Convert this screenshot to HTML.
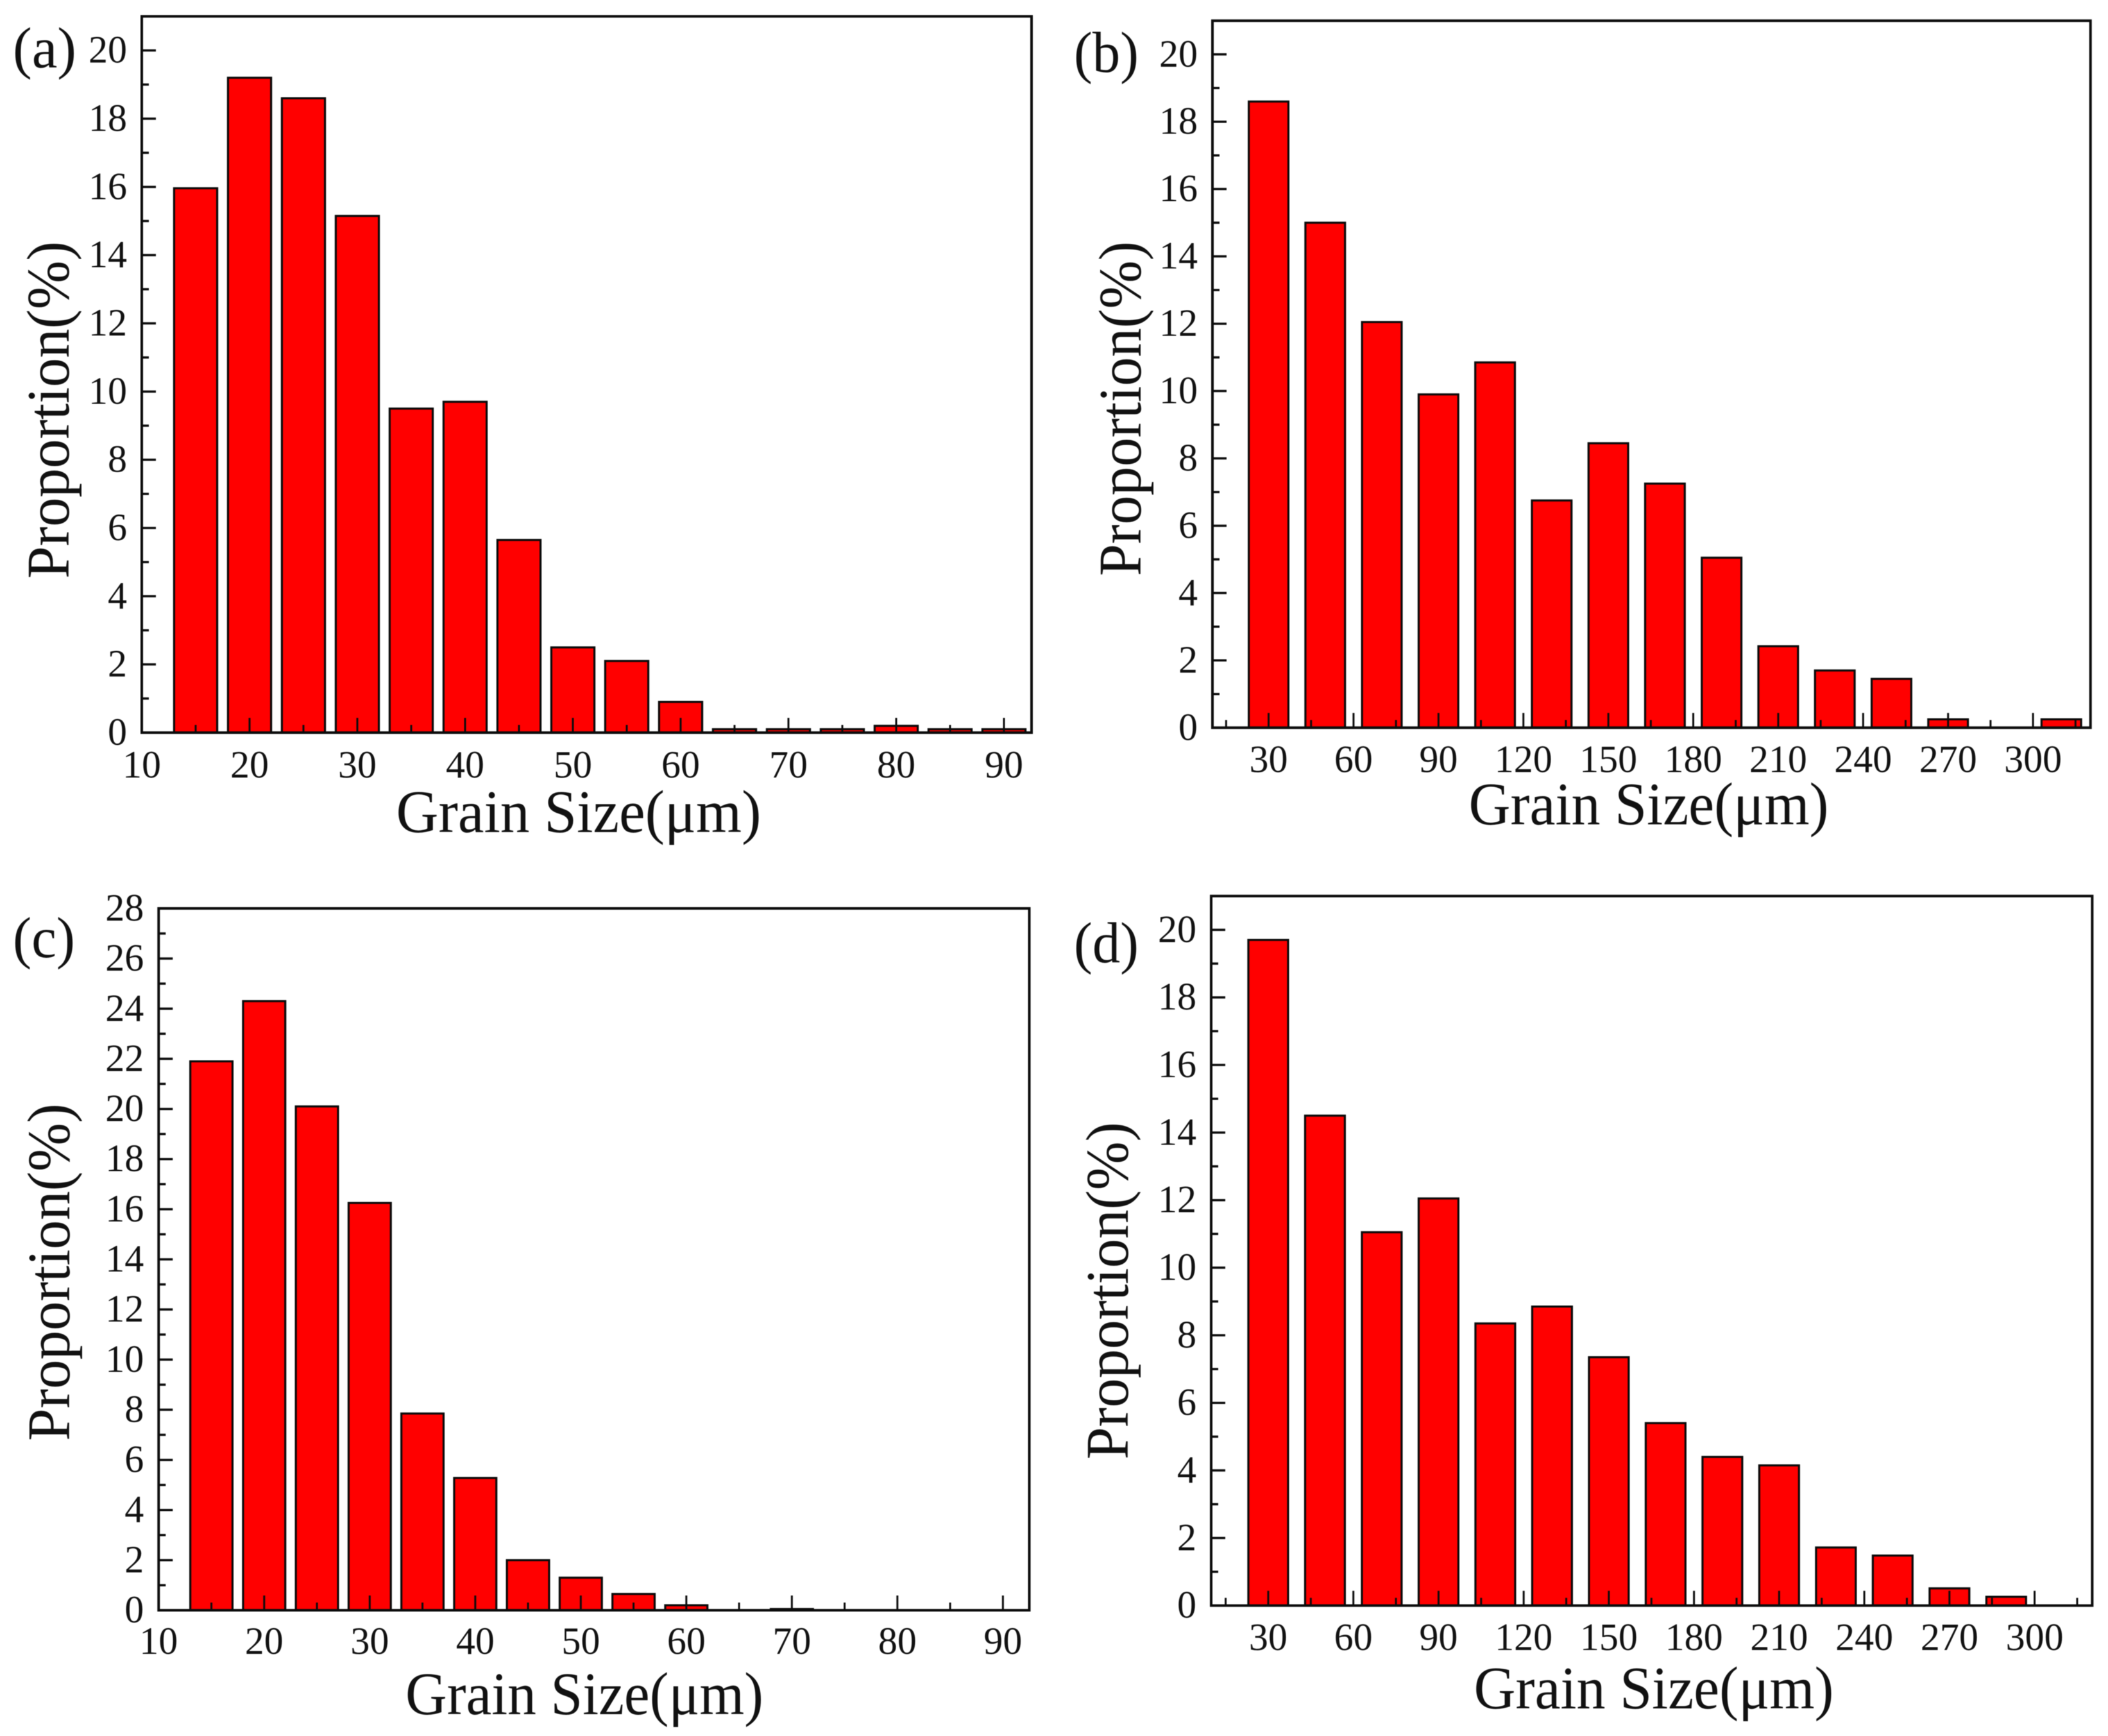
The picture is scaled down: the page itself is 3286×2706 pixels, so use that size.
<!DOCTYPE html>
<html lang="en">
<head>
<meta charset="utf-8">
<title>Grain size distributions</title>
<style>
html,body{margin:0;padding:0;background:#fff;}
svg{display:block;}
text{font-family:"Liberation Serif","Noto Serif CJK SC",serif;fill:#111;}
.tick-label{font-size:60px;}
.axis-title{font-size:94px;}
.panel-label{font-size:90px;}
#figure-content{filter:blur(0.6px);}
</style>
</head>
<body>
<svg id="figure" xmlns="http://www.w3.org/2000/svg" width="3286" height="2706" viewBox="0 0 3286 2706">
<rect x="0" y="0" width="3286" height="2706" fill="#ffffff"/>
<g id="figure-content">
  <g id="panel-a">
    <text class="panel-label" x="20" y="105" textLength="99" lengthAdjust="spacingAndGlyphs">(a)</text>
    <text class="axis-title" x="902" y="1297" text-anchor="middle" textLength="569" lengthAdjust="spacingAndGlyphs">Grain Size(μm)</text>
    <text class="axis-title" transform="translate(107 639) rotate(-90)" text-anchor="middle" textLength="526" lengthAdjust="spacingAndGlyphs">Proportion(%)</text>
  </g>
  <g id="panel-b">
    <text class="panel-label" x="1674" y="112" textLength="101" lengthAdjust="spacingAndGlyphs">(b)</text>
    <text class="axis-title" x="2570" y="1285" text-anchor="middle" textLength="561" lengthAdjust="spacingAndGlyphs">Grain Size(μm)</text>
    <text class="axis-title" transform="translate(1778 637) rotate(-90)" text-anchor="middle" textLength="522" lengthAdjust="spacingAndGlyphs">Proportion(%)</text>
  </g>
  <g id="panel-c">
    <text class="panel-label" x="20" y="1492" textLength="97" lengthAdjust="spacingAndGlyphs">(c)</text>
    <text class="axis-title" x="911" y="2672" text-anchor="middle" textLength="558" lengthAdjust="spacingAndGlyphs">Grain Size(μm)</text>
    <text class="axis-title" transform="translate(108 1983) rotate(-90)" text-anchor="middle" textLength="526" lengthAdjust="spacingAndGlyphs">Proportion(%)</text>
  </g>
  <g id="panel-d">
    <text class="panel-label" x="1674" y="1500" textLength="101" lengthAdjust="spacingAndGlyphs">(d)</text>
    <text class="axis-title" x="2578" y="2663" text-anchor="middle" textLength="561" lengthAdjust="spacingAndGlyphs">Grain Size(μm)</text>
    <text class="axis-title" transform="translate(1758 2012) rotate(-90)" text-anchor="middle" textLength="526" lengthAdjust="spacingAndGlyphs">Proportion(%)</text>
  </g>
</g>
</svg>
<script>
// Panel (a)
const aCategories = [15,20,25,30,35,40,45,50,55,60,65,70,75,80,85,90];
const aValues = [15.96,19.2,18.6,15.15,9.5,9.7,5.65,2.5,2.1,0.9,0.1,0.1,0.1,0.2,0.1,0.1];
const aXTicks = [10,20,30,40,50,60,70,80,90];
const aYTicks = [0,2,4,6,8,10,12,14,16,18,20];
// Panel (b)
const bCategories = [30,50,70,90,110,130,150,170,190,210,230,250,270,290,310];
const bValues = [18.6,15,12.05,9.9,10.85,6.75,8.45,7.25,5.05,2.42,1.7,1.45,0.25,0,0.25];
const bXTicks = [30,60,90,120,150,180,210,240,270,300];
const bYTicks = [0,2,4,6,8,10,12,14,16,18,20];
// Panel (c)
const cCategories = [15,20,25,30,35,40,45,50,55,60,65,70,75,80,85,90];
const cValues = [21.9,24.3,20.1,16.25,7.85,5.28,2.0,1.3,0.65,0.2,0,0.05,0,0,0,0];
const cXTicks = [10,20,30,40,50,60,70,80,90];
const cYTicks = [0,2,4,6,8,10,12,14,16,18,20,22,24,26,28];
// Panel (d)
const dCategories = [30,50,70,90,110,130,150,170,190,210,230,250,270,290,310];
const dValues = [19.7,14.5,11.05,12.05,8.35,8.85,7.35,5.4,4.4,4.15,1.72,1.48,0.51,0.26,0];
const dXTicks = [30,60,90,120,150,180,210,240,270,300];
const dYTicks = [0,2,4,6,8,10,12,14,16,18,20];

const SVG_NS = 'http://www.w3.org/2000/svg';

function line(parent, x1, y1, x2, y2, width, color) {
  const el = document.createElementNS(SVG_NS, 'line');
  el.setAttribute('x1', x1);
  el.setAttribute('y1', y1);
  el.setAttribute('x2', x2);
  el.setAttribute('y2', y2);
  el.setAttribute('stroke', color || '#0c0c0c');
  el.setAttribute('stroke-width', width);
  parent.appendChild(el);
  return el;
}

function drawPanel(id, p, categories, values, xTicks, yTicks) {
  const g = document.getElementById('panel-' + id);
  const xScale = v => p.left + (v - p.xMin) / (p.xMax - p.xMin) * (p.right - p.left);
  const yScale = v => p.bottom - v / p.yMax * (p.bottom - p.top);
  const barStroke = 3.2;

  // bars
  categories.forEach((c, i) => {
    const v = values[i];
    if (!(v > 0)) return;
    const bx = xScale(c - p.barUnits / 2);
    const bw = xScale(c + p.barUnits / 2) - xScale(c - p.barUnits / 2);
    const top = yScale(v);
    const bar = document.createElementNS(SVG_NS, 'rect');
    bar.setAttribute('x', bx);
    bar.setAttribute('y', top);
    bar.setAttribute('width', bw);
    bar.setAttribute('height', Math.max(p.bottom - top, 0.5));
    bar.setAttribute('fill', '#ff0000');
    bar.setAttribute('stroke', '#0a0a0a');
    bar.setAttribute('stroke-width', barStroke);
    
    
    g.appendChild(bar);
  });

  // frame
  const frame = document.createElementNS(SVG_NS, 'rect');
  frame.setAttribute('x', p.left);
  frame.setAttribute('y', p.top);
  frame.setAttribute('width', p.right - p.left);
  frame.setAttribute('height', p.bottom - p.top);
  frame.setAttribute('fill', 'none');
  frame.setAttribute('stroke', '#0c0c0c');
  frame.setAttribute('stroke-width', 4);
  
  
  g.appendChild(frame);

  // x ticks
  xTicks.forEach(t => {
    const x = xScale(t);
    const tick = line(g, x, p.bottom, x, p.bottom - 23, 3);
    
    
    const label = document.createElementNS(SVG_NS, 'text');
    label.setAttribute('class', 'tick-label');
    label.setAttribute('x', x);
    label.setAttribute('y', p.bottom + p.xLabelGap);
    label.setAttribute('text-anchor', 'middle');
    label.textContent = t;
    
    
    g.appendChild(label);
  });
  const xStep = xTicks[1] - xTicks[0];
  for (let m = xTicks[0] - xStep / 2; m <= p.xMax; m += xStep) {
    if (m < p.xMin) continue;
    const mx = xScale(m);
    const minor = line(g, mx, p.bottom, mx, p.bottom - 12, 3);
    
    
  }

  // y ticks
  yTicks.forEach((t, i) => {
    const y = yScale(t);
    const tick = line(g, p.left, y, p.left + 22, y, 3.5);
    
    
    const label = document.createElementNS(SVG_NS, 'text');
    label.setAttribute('class', 'tick-label');
    label.setAttribute('x', p.left - 23);
    label.setAttribute('y', y + 19);
    label.setAttribute('text-anchor', 'end');
    label.textContent = t;
    
    
    g.appendChild(label);
    const next = yTicks[i + 1];
    const mid = next !== undefined ? (t + next) / 2 : t + (t - yTicks[i - 1]) / 2;
    if (mid < p.yMax) {
      const my = yScale(mid);
      const minor = line(g, p.left, my, p.left + 11, my, 3.5);
      
      
    }
  });
}

drawPanel('a', {left:221, right:1608, top:25.5, bottom:1142, xMin:10, xMax:92.56, yMax:21, barUnits:4, xLabelGap:70}, aCategories, aValues, aXTicks, aYTicks);
drawPanel('b', {left:1890, right:3258.7, top:32.3, bottom:1134.3, xMin:10.17, xMax:320.3, yMax:21, barUnits:14, xLabelGap:69}, bCategories, bValues, bXTicks, bYTicks);
drawPanel('c', {left:247.3, right:1604.5, top:1416, bottom:2510, xMin:10, xMax:92.5, yMax:28, barUnits:4, xLabelGap:68}, cCategories, cValues, cXTicks, cYTicks);
drawPanel('d', {left:1888, right:3261.4, top:1396.7, bottom:2502.7, xMin:9.9, xMax:320.3, yMax:21, barUnits:14, xLabelGap:69.5}, dCategories, dValues, dXTicks, dYTicks);
</script>
</body>
</html>
